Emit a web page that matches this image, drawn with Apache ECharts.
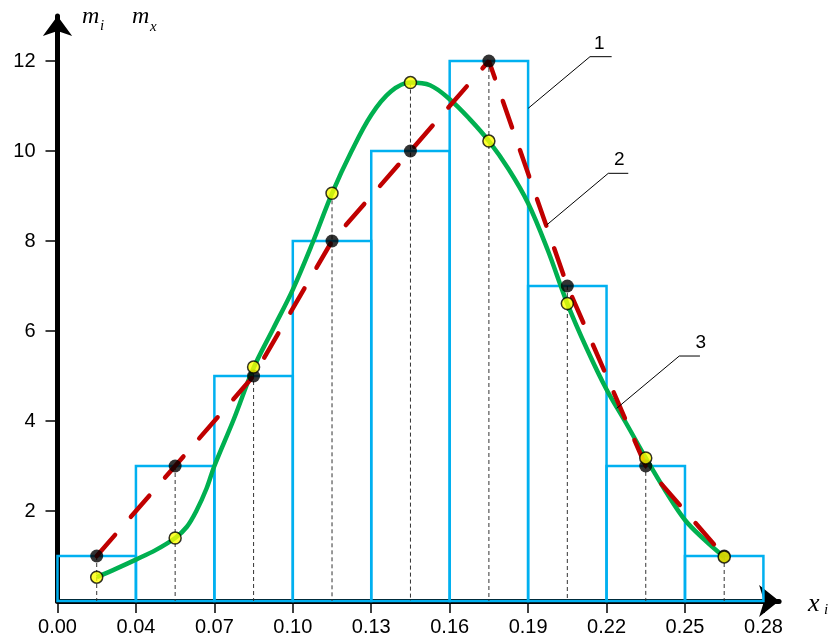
<!DOCTYPE html>
<html>
<head>
<meta charset="utf-8">
<script src="https://cdn.jsdelivr.net/npm/echarts@6/dist/echarts.min.js"></script>
<style>html,body{margin:0;padding:0;background:#fff}#c{width:830px;height:641px}</style>
</head>
<body>
<div id="c"></div>
<script>
// x tick labels (interval boundaries, shown at equally spaced positions 0..9)
const tickLabels = ['0.00','0.04','0.07','0.10','0.13','0.16','0.19','0.22','0.25','0.28'];
// empirical counts m_i per interval (histogram 1 / polygon 2)
const binCounts = [1, 3, 5, 8, 10, 12, 7, 3, 1];
// theoretical counts m_x at interval midpoints (yellow points)
const theoretical = [0.53, 1.40, 5.20, 9.06, 11.52, 10.22, 6.61, 3.18, 0.98];
// theoretical curve 3 (position in interval units, value)
const curveX = [0.5, 0.75, 1.0, 1.25, 1.5, 1.65, 1.77, 1.9, 2.0, 2.25, 2.5, 2.75, 3.0, 3.25, 3.5, 3.75, 4.0, 4.25, 4.5, 4.75, 5.0, 5.25, 5.5, 5.75, 6.0, 6.25, 6.5, 6.75, 7.0, 7.25, 7.5, 7.75, 8.0, 8.25, 8.5];
const curveY = [0.53, 0.72, 0.92, 1.13, 1.40, 1.65, 2.0, 2.5, 3.0, 4.05, 5.18, 6.05, 6.92, 7.95, 9.06, 10.0, 10.8, 11.32, 11.52, 11.46, 11.15, 10.72, 10.22, 9.6, 8.84, 7.8, 6.61, 5.6, 4.7, 3.95, 3.18, 2.45, 1.8, 1.36, 0.98];
// y tick values
const yTicks = [2, 4, 6, 8, 10, 12];
// annotation leader lines in data coords: [label, [p0, p1, p2], textPos]
const annotations = [
  ['1', [[6.002, 10.95], [6.789, 12.096], [7.065, 12.096]], [6.907, 12.39]],
  ['2', [[6.237, 8.356], [7.022, 9.504], [7.277, 9.504]], [7.162, 9.80]],
  ['3', [[7.129, 4.282], [7.927, 5.444], [8.191, 5.444]], [8.20, 5.74]]
];

const xIdx = tickLabels.map((_, i) => i);
const mids = binCounts.map((_, i) => i + 0.5);
const histData = binCounts.map((c, i) => [i, i + 1, c]);
const polyData = binCounts.map((c, i) => [mids[i], c]);
const theoData = theoretical.map((v, i) => [mids[i], v]);
const vlineData = binCounts.map((c, i) => [mids[i], Math.max(c, theoretical[i])]);
const curveData = curveX.map((x, i) => [x, curveY[i]]);

const chart = echarts.init(document.getElementById('c'), null, {renderer: 'canvas'});
const font = 'Liberation Sans, Arial, sans-serif';
const serif = 'Liberation Serif, Times New Roman, serif';

chart.setOption({
  animation: false,
  backgroundColor: '#fff',
  grid: {left: 57.5, top: 16, width: 721.6, height: 585},
  xAxis: {
    type: 'value', min: 0, max: 9.2, interval: 1,
    splitLine: {show: false},
    axisLine: {show: true, onZero: false, symbol: ['none', 'arrow'], symbolSize: [24, 20], lineStyle: {color: '#000', width: 5}},
    axisTick: {show: true, length: 12, customValues: xIdx, lineStyle: {color: '#000', width: 1.5}},
    axisLabel: {customValues: xIdx, margin: 16, color: '#000', fontSize: 20, fontFamily: font,
      formatter: v => tickLabels[Math.round(v)] || ''}
  },
  yAxis: {
    type: 'value', min: 0, max: 13, interval: 2,
    splitLine: {show: false},
    axisLine: {show: true, onZero: false, symbol: ['none', 'arrow'], symbolSize: [22, 20], lineStyle: {color: '#000', width: 5}},
    axisTick: {show: true, length: 12, customValues: yTicks, lineStyle: {color: '#000', width: 1.5}},
    axisLabel: {customValues: yTicks, margin: 22, color: '#000', fontSize: 20, fontFamily: font}
  },
  series: [
    {
      type: 'custom', z: 2, data: histData,
      renderItem: (params, api) => {
        const p0 = api.coord([api.value(0), 0]);
        const p1 = api.coord([api.value(1), api.value(2)]);
        return {type: 'rect', shape: {x: p0[0], y: p1[1], width: p1[0] - p0[0], height: p0[1] - p1[1]},
          style: {fill: 'none', stroke: '#00b0f0', lineWidth: 2.5}};
      }
    },
    {
      type: 'custom', z: 3, data: vlineData,
      renderItem: (params, api) => {
        const a = api.coord([api.value(0), api.value(1)]);
        const b = api.coord([api.value(0), 0]);
        return {type: 'line', shape: {x1: a[0], y1: a[1], x2: b[0], y2: b[1]},
          style: {stroke: '#333', lineWidth: 1, lineDash: [4, 3]}};
      }
    },
    {
      type: 'line', z: 5, data: curveData, showSymbol: false, smooth: 0.35,
      lineStyle: {color: '#00b050', width: 4.5}
    },
    {
      type: 'line', z: 6, data: polyData, showSymbol: false,
      lineStyle: {color: '#c00000', width: 4.5, type: [28, 24], cap: 'round'}
    },
    {
      type: 'scatter', z: 7, data: polyData, symbolSize: 13,
      itemStyle: {color: '#000'}
    },
    {
      type: 'scatter', z: 8, data: theoData, symbolSize: 12,
      itemStyle: {color: '#ffff00', borderColor: '#000', borderWidth: 1.5}
    }
  ]
});

const graphics = [];
annotations.forEach(([label, pts, tp]) => {
  const px = pts.map(p => chart.convertToPixel({gridIndex: 0}, p));
  graphics.push({type: 'polyline', z: 10, shape: {points: px}, style: {stroke: '#000', lineWidth: 1, fill: null}});
  const t = chart.convertToPixel({gridIndex: 0}, tp);
  graphics.push({type: 'text', z: 10, x: t[0], y: t[1], style: {text: label, fontSize: 19, fontFamily: font, fill: '#000', align: 'center', verticalAlign: 'middle'}});
});
// axis names
const nm = (text, x, y, size) => ({type: 'text', z: 10, x: x, y: y, style: {text: text, fontSize: size, fontFamily: serif, fontStyle: 'italic', fill: '#000', align: 'left', verticalAlign: 'middle'}});
graphics.push(nm('m', 82, 17, 24), nm('i', 100, 26, 15), nm('m', 132, 17, 24), nm('x', 150, 27, 15));
graphics.push(nm('x', 808, 604, 26), nm('i', 824, 610, 15));
chart.setOption({graphic: graphics});
</script>
</body>
</html>
